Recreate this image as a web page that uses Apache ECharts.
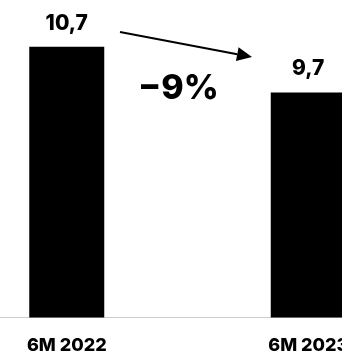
<!DOCTYPE html>
<html>
<head>
<meta charset="utf-8">
<style>
  html, body { margin: 0; padding: 0; background: #fff; }
  #main { width: 342px; height: 354px; }
</style>
<script src="https://cdn.jsdelivr.net/npm/echarts@6/dist/echarts.min.js"></script>
</head>
<body>
<div id="main"></div>
<script>
// data
var categories = ['6M 2022', '6M 2023'];
var values = [10.7, 9.7];
var changeText = '−9%';

var FONT = 'Inter';

var myChart = echarts.init(document.getElementById('main'));

// arrow from first label to second label
var a0 = [120, 32], a1 = [252, 57];
var dx = a1[0] - a0[0], dy = a1[1] - a0[1];
var len = Math.sqrt(dx * dx + dy * dy);
var ux = dx / len, uy = dy / len;
var headLen = 15, headHalf = 7;
var bx = a1[0] - ux * headLen, by = a1[1] - uy * headLen;

var option = {
  animation: false,
  grid: {
    left: -54, right: -87, top: 10, bottom: 36.5,
    containLabel: false,
    outerBoundsMode: 'none'
  },
  xAxis: {
    type: 'category',
    data: categories,
    axisTick: { show: false },
    axisLine: { lineStyle: { color: '#cccccc', width: 1 } },
    axisLabel: {
      color: '#000',
      fontFamily: FONT,
      fontWeight: 800,
      fontSize: 18,
      margin: 19
    }
  },
  yAxis: {
    type: 'value',
    min: 4.8,
    max: 11.5,
    show: false,
    splitLine: { show: false }
  },
  series: [{
    type: 'bar',
    data: values,
    barWidth: 75,
    itemStyle: { color: '#000' },
    label: {
      show: true,
      position: 'top',
      distance: 13,
      color: '#000',
      fontFamily: FONT,
      fontWeight: 800,
      fontSize: 21,
      formatter: function (p) {
        return String(p.value).replace('.', ',');
      }
    }
  }],
  graphic: [
    {
      type: 'line',
      shape: { x1: a0[0], y1: a0[1], x2: bx, y2: by },
      style: { stroke: '#000', lineWidth: 2 }
    },
    {
      type: 'polygon',
      shape: {
        points: [
          a1,
          [bx - uy * headHalf, by + ux * headHalf],
          [bx + uy * headHalf, by - ux * headHalf]
        ]
      },
      style: { fill: '#000' }
    },
    {
      type: 'text',
      left: 138,
      top: 72,
      style: {
        text: changeText,
        fill: '#000',
        font: '800 34px ' + FONT
      }
    }
  ]
};

myChart.setOption(option);
</script>
</body>
</html>
